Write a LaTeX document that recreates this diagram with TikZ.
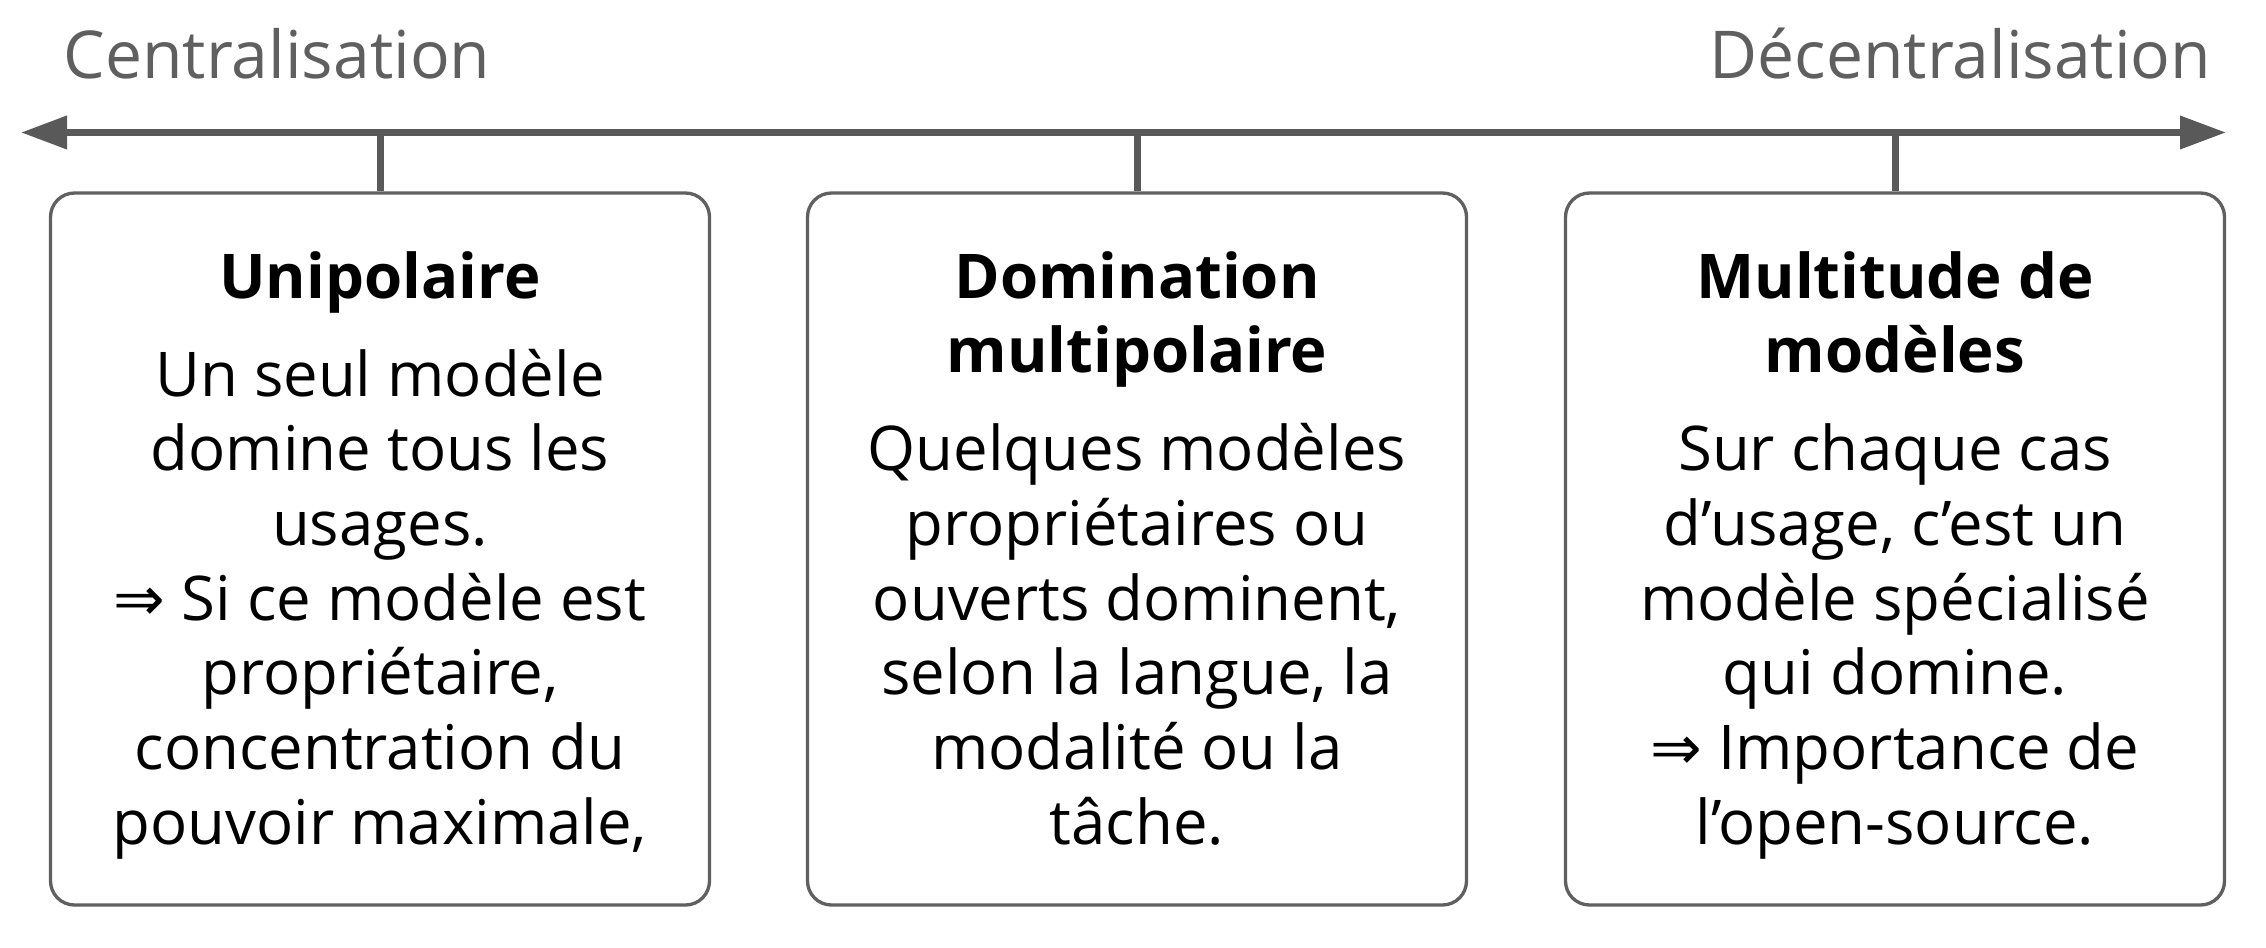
\documentclass[tikz,border=0pt]{standalone}
\usepackage{fontspec}
\setmainfont{Open Sans}
\newfontfamily\symfont{DejaVu Sans}
\usetikzlibrary{arrows.meta}
\definecolor{axisgray}{HTML}{595959}
\definecolor{boxgray}{HTML}{606060}
\definecolor{labelgray}{HTML}{5F5F5F}
\newcommand{\imp}{{\symfont ⇒}}
\begin{document}
\begin{tikzpicture}[x=0.3pt,y=-0.3pt,
  axisline/.style={draw=axisgray, line width=2.1pt},
  panel/.style={draw=boxgray, line width=1pt, rounded corners=7.2pt,
    minimum width=197.7pt, minimum height=213.6pt, inner sep=0pt},
  txt/.style={align=center, inner sep=0pt, anchor=north,
    font=\fontsize{18.5pt}{22.4pt}\selectfont},
  lbl/.style={text=labelgray, inner sep=0pt, font=\fontsize{19.8pt}{23pt}\selectfont}]
\useasboundingbox (0,0) rectangle (2266,948);
% axis
\coordinate (L) at (21,132.5);
\coordinate (R) at (2226,132.5);
\draw[axisline, {Triangle[length=13.8pt,width=9.6pt]}-{Triangle[length=13.8pt,width=9.6pt]}] (L) -- (R);
\node[lbl, anchor=base west] (cen) at (63,78) {Centralisation};
\node[lbl, anchor=base east] (dec) at (2212,78) {Décentralisation};
% boxes
\node[panel] (box1) at (380,549) {};
\node[panel] (box2) at (1137,549) {};
\node[panel] (box3) at (1895,549) {};
\draw[axisline] (box1.north |- L) -- (box1.north);
\draw[axisline] (box2.north |- L) -- (box2.north);
\draw[axisline] (box3.north |- L) -- (box3.north);
% texts
\node[txt] (t1) at ([yshift=-11.8pt]box1.north) {\rule{0pt}{20pt}\textbf{Unipolaire}\\[7pt]
  Un seul modèle\\ domine tous les\\ usages.\\ \imp{} Si ce modèle est\\ propriétaire,\\ concentration du\\ pouvoir maximale,};
\node[txt] (t2) at ([yshift=-11.8pt]box2.north) {\rule{0pt}{20pt}\textbf{Domination}\\ \textbf{multipolaire}\\[7pt]
  Quelques modèles\\ propriétaires ou\\ ouverts dominent,\\ selon la langue, la\\ modalité ou la\\ tâche.};
\node[txt] (t3) at ([yshift=-11.8pt]box3.north) {\rule{0pt}{20pt}\textbf{Multitude de}\\ \textbf{modèles}\\[7pt]
  Sur chaque cas\\ d’usage, c’est un\\ modèle spécialisé\\ qui domine.\\ \imp{} Importance de\\ l’open-source.};
\end{tikzpicture}
\end{document}
